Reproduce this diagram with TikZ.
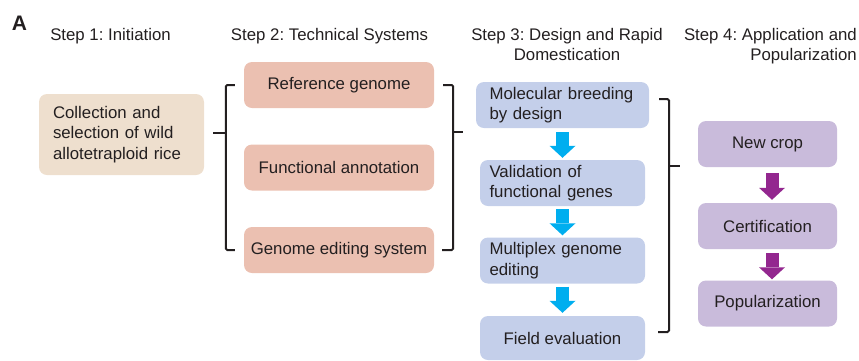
\documentclass[tikz,border=0pt]{standalone}
\usepackage{fontspec}
\setmainfont{Liberation Sans}
\usetikzlibrary{arrows.meta}
\frenchspacing
\definecolor{txtgray}{HTML}{231F20}
\definecolor{initfill}{HTML}{EEDFCE}
\definecolor{techfill}{HTML}{EBC0B1}
\definecolor{designfill}{HTML}{C4CFEA}
\definecolor{appfill}{HTML}{C9BBDB}
\definecolor{cyanarrow}{HTML}{00AEEF}
\definecolor{purplearrow}{HTML}{93278F}

\begin{document}
\begin{tikzpicture}[x=1pt,y=1pt,
        every node/.style={text=txtgray, inner sep=0pt, font=\fontsize{16.8}{20.5}\selectfont},
        box/.style={rounded corners=8pt, minimum height=46pt},
        brace/.style={txtgray, line width=2pt, rounded corners=1.5pt},
        flowarrow/.style={line width=13pt, -{Triangle[width=26pt,length=12pt,line width=0pt]}}]
                \useasboundingbox (0,0) rectangle (859,-360);
                \node[font=\fontsize{21}{24}\selectfont\bfseries] (panel) at (19.5,-23.5) {A};
                % step titles
                \node[anchor=north] (s1) at (110.5,-28) {Step 1: Initiation};
                \node[anchor=north] (s2) at (329.5,-28) {Step 2: Technical Systems};
                \node[anchor=north, align=center] (s3) at (567,-28) {Step 3: Design and Rapid\\Domestication};
                \node[anchor=north east, align=right] (s4) at (857,-28) {Step 4: Application and\\Popularization};
                % step 1
                \node[box, fill=initfill, minimum width=165pt, minimum height=81pt, text width=137pt, align=left] (coll) at (121.5,-134.5) {Collection and\\selection of wild\\allotetraploid rice};
                % step 2
                \node[box, fill=techfill, minimum width=190pt] (ref) at (339,-85) {Reference genome};
                \node[box, fill=techfill, minimum width=190pt] (fun) at (339,-167.5) {Functional annotation};
                \node[box, fill=techfill, minimum width=190pt] (edit) at (339,-250) {Genome editing system};
                % step 3
                \node[box, fill=designfill, minimum width=173pt, text width=146pt, align=left] (mbd) at (562.5,-105) {Molecular breeding\\by design};
                \node[box, fill=designfill, minimum width=165pt, text width=146pt, align=left] (valid) at (562.5,-183) {Validation of\\functional genes};
                \node[box, fill=designfill, minimum width=165pt, text width=146pt, align=left] (multi) at (562.5,-260.5) {Multiplex genome\\editing};
                \node[box, fill=designfill, minimum width=165pt, minimum height=44pt] (field) at (562.5,-338) {Field evaluation};
                % step 4
                \node[box, fill=appfill, minimum width=139pt] (crop) at (767.5,-144) {New crop};
                \node[box, fill=appfill, minimum width=139pt] (cert) at (767.5,-226) {Certification};
                \node[box, fill=appfill, minimum width=139pt] (pop) at (767.5,-303.5) {Popularization};
                % brackets
                \draw[brace] ([xshift=-9pt]ref.west) -| ([xshift=-18pt]edit.west) -- ([xshift=-9pt]edit.west);
                \draw[brace] (213,-133) -- (226,-133);
                \draw[brace] ([xshift=9pt]ref.east) -| ([xshift=19pt]edit.east) -- ([xshift=8pt]edit.east);
                \draw[brace] (453,-132) -- (463,-132);
                \draw[brace] (659,-99) -- (669,-99) -- (669,-332) -- (658,-332);
                \draw[brace] (669,-166) -- (680,-166);
                % arrows
                \draw[flowarrow, cyanarrow, shorten <=4pt, shorten >=2pt] (mbd.south) -- (valid.north);
                \draw[flowarrow, cyanarrow, shorten <=3pt, shorten >=2pt] (valid.south) -- (multi.north);
                \draw[flowarrow, cyanarrow, shorten <=3pt, shorten >=3pt] (multi.south) -- (field.north);
                \draw[flowarrow, purplearrow, shorten <=6pt, shorten >=3pt] ([xshift=4.5pt]crop.south) -- ([xshift=4.5pt]cert.north);
                \draw[flowarrow, purplearrow, shorten <=4pt, shorten >=1pt] ([xshift=4.5pt]cert.south) -- ([xshift=4.5pt]pop.north);
\end{tikzpicture}
\end{document}
